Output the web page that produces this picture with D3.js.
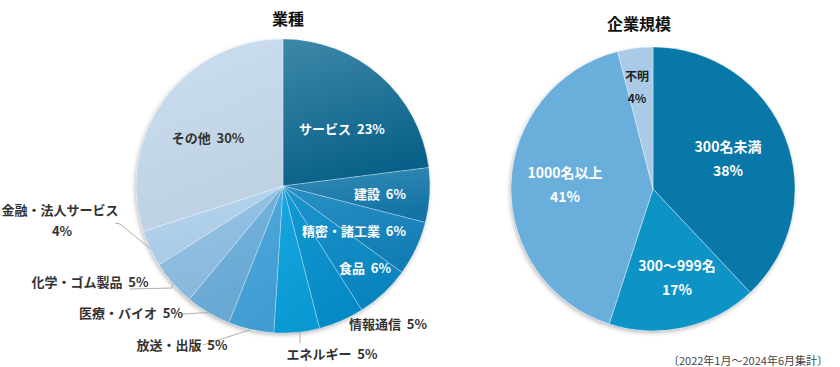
<!DOCTYPE html>
<html><head><meta charset="utf-8">
<script src="https://cdn.jsdelivr.net/npm/d3@7"></script>
<style>
body{margin:0;background:#fff;}
svg{display:block;font-family:"Noto Sans CJK JP","Noto Sans",sans-serif;}
text{white-space:pre;}
</style></head><body>
<svg id="c" width="840" height="367"></svg>
<script>
// ---- data ----
const industryNames = ["サービス","建設","精密・諸工業","食品","情報通信","エネルギー","放送・出版","医療・バイオ","化学・ゴム製品","金融・法人サービス","その他"];
const industryValues = [23,6,6,6,5,5,5,5,5,4,30];
const sizeNames = ["300名未満","300～999名","1000名以上","不明"];
const sizeValues = [38,17,41,4];
const titles = ["業種","企業規模"];
const footnote = "〔2022年1月～2024年6月集計〕";

// ---- style / layout config ----
const industryColors = ["#08668f","#1479ad","#1284bf","#0a8bc8","#0592d0","#0aa1de","#45a5dc","#6db0de","#90c1e6","#b2d3ef","#c8dcef"];
const gradTop = [0.22,0.14,0.1,0.08,0.06,0.06,0.06,0.06,0.06,0.06,0.08];
const sizeColors = ["#0878a8","#0d93c6","#6aaedb","#a9cbe8"];
const industryLabelLayout = [
  {dx:59,dy:-58,fill:"#fff"},
  {dx:97,dy:7,fill:"#fff"},
  {dx:71,dy:44,fill:"#fff"},
  {dx:82,dy:81,fill:"#fff"},
  {dx:105,dy:137,fill:"#333"},
  {dx:49,dy:167,fill:"#333",leader:[[17,147],[17,157]]},
  {dx:-101,dy:158,fill:"#333",leader:[[-80,159]]},
  {dx:-152,dy:126,fill:"#333",leader:[[-100,128]]},
  {dx:-193,dy:95,fill:"#333",leader:[[-111,102],[-153,103]]},
  {dx:-223,dy:23,fill:"#333",second:true,leader:[[-163,38],[-168,37]]},
  {dx:-75,dy:-49,fill:"#333"}
];
const sizeLabelLayout = [
  {dx:75,dy:-43},{dx:24,dy:76},{dx:-88,dy:-17},{dx:-16,dy:-114,dark:true}
];

const svg = d3.select("#c");
const defs = svg.append("defs");
const f = defs.append("filter").attr("id","sh").attr("x","-10%").attr("y","-10%").attr("width","120%").attr("height","120%");
f.append("feDropShadow").attr("dx",-1).attr("dy",2).attr("stdDeviation",2).attr("flood-color","#000").attr("flood-opacity",0.28);

// ---- left pie ----
const L = {cx:283, cy:186, r:147};
const pie = d3.pie().sort(null).value(d=>d.v);
const indData = pie(industryNames.map((n,i)=>({n, v:industryValues[i], i})));
const arcL = d3.arc().innerRadius(0).outerRadius(L.r);
industryColors.forEach((c,i)=>{
  const g = defs.append("linearGradient").attr("id","g"+i).attr("x1",0).attr("y1",0).attr("x2",0.3).attr("y2",1);
  const base = d3.color(c);
  g.append("stop").attr("offset","0%").attr("stop-color", d3.interpolateRgb(base,"#ffffff")(gradTop[i]));
  g.append("stop").attr("offset","100%").attr("stop-color", base.darker(0.15));
});
const gL = svg.append("g").attr("transform",`translate(${L.cx},${L.cy})`);
gL.append("circle").attr("r",L.r).attr("fill","#fff").attr("filter","url(#sh)");
gL.selectAll("path").data(indData).join("path")
  .attr("d",arcL).attr("fill",d=>`url(#g${d.data.i})`)
  .attr("stroke","rgba(255,255,255,0.4)").attr("stroke-width",0.7);

indData.forEach((d,i)=>{
  const lay = industryLabelLayout[i];
  if(!lay.leader) return;
  const a = (d.startAngle+d.endAngle)/2;
  const p0 = [Math.sin(a)*L.r, -Math.cos(a)*L.r];
  gL.append("path").attr("d", d3.line()([p0].concat(lay.leader))).attr("fill","none").attr("stroke","#b0b0b0").attr("stroke-width",1);
});
indData.forEach((d,i)=>{
  const lay = industryLabelLayout[i];
  const t = gL.append("text").attr("x",lay.dx).attr("y",lay.dy).attr("text-anchor","middle")
    .attr("dominant-baseline","central").attr("font-size",13).attr("font-weight",700).attr("fill",lay.fill);
  if(lay.second){
    t.text(d.data.n);
    gL.append("text").attr("x",lay.dx+2).attr("y",lay.dy+21).attr("text-anchor","middle")
      .attr("dominant-baseline","central").attr("font-size",13).attr("font-weight",700).attr("fill",lay.fill)
      .text(d.data.v+"%");
  } else {
    t.text(d.data.n+"  "+d.data.v+"%");
  }
});

// ---- right pie ----
const R = {cx:653, cy:189, r:142};
const sizeData = pie(sizeNames.map((n,i)=>({n, v:sizeValues[i], i})));
const arcR = d3.arc().innerRadius(0).outerRadius(R.r);
const gR = svg.append("g").attr("transform",`translate(${R.cx},${R.cy})`);
gR.append("circle").attr("r",R.r).attr("fill","#fff").attr("filter","url(#sh)");
gR.selectAll("path").data(sizeData).join("path")
  .attr("d",arcR).attr("fill",d=>sizeColors[d.data.i])
  .attr("stroke","rgba(255,255,255,0.5)").attr("stroke-width",0.7);
sizeData.forEach((d,i)=>{
  const lay = sizeLabelLayout[i];
  const fs = lay.dark?12:14;
  const fill = lay.dark?"#222":"#fff";
  const gap = lay.dark?22:24;
  gR.append("text").attr("x",lay.dx).attr("y",lay.dy).attr("text-anchor","middle").attr("dominant-baseline","central")
    .attr("font-size",fs).attr("font-weight",700).attr("fill",fill).text(d.data.n);
  gR.append("text").attr("x",lay.dx).attr("y",lay.dy+gap).attr("text-anchor","middle").attr("dominant-baseline","central")
    .attr("font-size",fs).attr("font-weight",700).attr("fill",fill).text(d.data.v+"%");
});

// titles
svg.append("text").attr("x",288).attr("y",18).attr("text-anchor","middle").attr("dominant-baseline","central")
  .attr("font-size",16).attr("font-weight",700).attr("fill","#111").text(titles[0]);
svg.append("text").attr("x",639).attr("y",23).attr("text-anchor","middle").attr("dominant-baseline","central")
  .attr("font-size",16).attr("font-weight",700).attr("fill","#111").text(titles[1]);
svg.append("text").attr("x",828).attr("y",360).attr("text-anchor","end").attr("dominant-baseline","central")
  .attr("font-size",11).attr("fill","#444").text(footnote);
</script></body></html>
